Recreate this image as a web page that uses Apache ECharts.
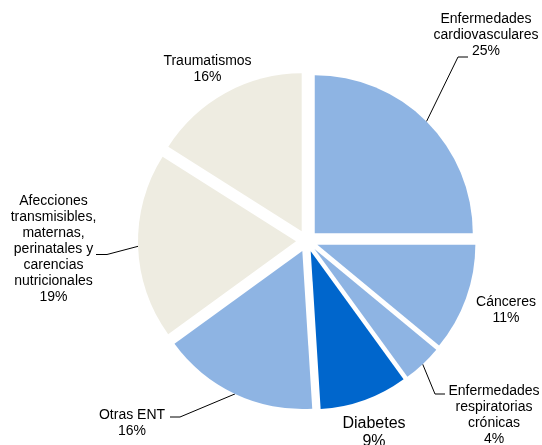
<!DOCTYPE html>
<html><head><meta charset="utf-8">
<script src="https://cdn.jsdelivr.net/npm/echarts@6/dist/echarts.min.js"></script>
<style>html,body{margin:0;padding:0;background:#fff}#c{width:542px;height:445px}</style>
</head><body><div id="c"></div>
<script>
const categories = ['Enfermedades\ncardiovasculares', 'Cánceres', 'Enfermedades\nrespiratorias\ncrónicas', 'Diabetes', 'Otras ENT', 'Afecciones\ntransmisibles,\nmaternas,\nperinatales y\ncarencias\nnutricionales', 'Traumatismos'];
const values = [25, 11, 4, 9, 16, 19, 16];
const colors = ['#8EB4E3', '#8EB4E3', '#8EB4E3', '#0066CC', '#8EB4E3', '#EEECE1', '#EEECE1'];

// label placement (style only)
const labelPlace = [
  {x: 486, y: 35, line: [[458, 57], [468, 57]]},
  {x: 506, y: 310},
  {x: 494, y: 415, line: [[435, 394], [445, 394]]},
  {x: 374, y: 432.5, size: 16, lh: 18},
  {x: 132, y: 423, line: [[180, 417], [170, 417]]},
  {x: 53.5, y: 249.5, line: [[107, 254.5], [96, 254.5]]},
  {x: 207.5, y: 69}
];

const CENTER = [307, 241];
const RADIUS = 158;
const EXPLODE = 11;

const chart = echarts.init(document.getElementById('c'), null, {renderer: 'canvas'});

const sliceData = categories.map((name, i) => ({
  name: name,
  value: values[i],
  selected: true,
  itemStyle: {color: colors[i]}
}));

const labelData = categories.map((name, i) => ({
  name: name,
  value: values[i],
  label: {fontSize: labelPlace[i].size || 14, lineHeight: labelPlace[i].lh || 16},
  labelLine: {show: !!labelPlace[i].line}
}));

chart.setOption({
  animation: false,
  series: [{
    type: 'pie',
    center: CENTER,
    radius: RADIUS,
    startAngle: 90,
    clockwise: true,
    selectedMode: 'multiple',
    selectedOffset: EXPLODE,
    silent: true,
    itemStyle: {borderWidth: 0},
    select: {itemStyle: {borderWidth: 0}},
    emphasis: {disabled: true},
    label: {show: false},
    labelLine: {show: false},
    data: sliceData
  }, {
    type: 'pie',
    center: CENTER,
    radius: RADIUS + EXPLODE,
    startAngle: 90,
    clockwise: true,
    avoidLabelOverlap: false,
    silent: true,
    emphasis: {disabled: true},
    itemStyle: {color: 'rgba(0,0,0,0)', borderWidth: 0},
    label: {
      show: true,
      position: 'outside',
      formatter: '{b}\n{c}%',
      color: '#000',
      fontFamily: '"Liberation Sans", Arial, sans-serif',
      fontSize: 14,
      lineHeight: 16,
      align: 'center'
    },
    labelLine: {show: true, length: 20, length2: 10, lineStyle: {color: '#000', width: 1}},
    labelLayout: function (params) {
      const p = labelPlace[params.dataIndex];
      const res = {x: p.x, y: p.y, align: 'center', verticalAlign: 'middle'};
      if (p.line && params.labelLinePoints) {
        res.labelLinePoints = [params.labelLinePoints[0], p.line[0], p.line[1]];
      }
      return res;
    },
    data: labelData
  }]
});
</script>
</body></html>
